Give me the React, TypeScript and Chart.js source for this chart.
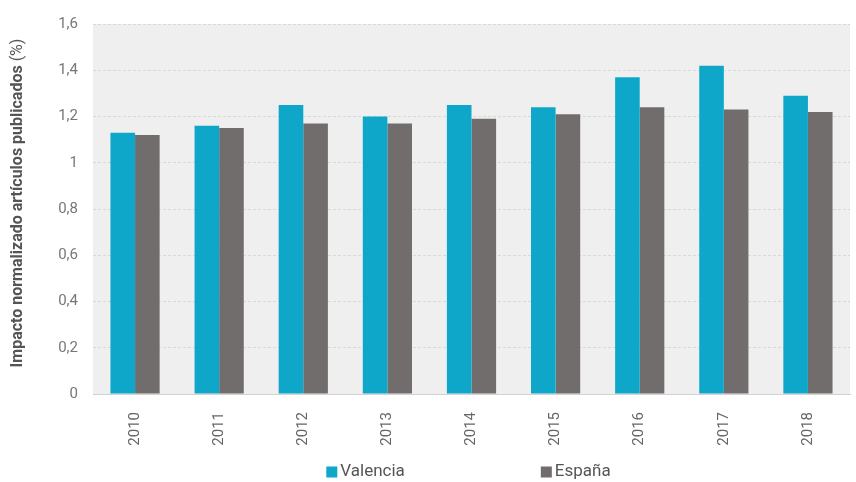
import React, { useEffect, useRef } from "react";
import { Chart, registerables } from "chart.js";

Chart.register(...registerables);

const categories = ["2010", "2011", "2012", "2013", "2014", "2015", "2016", "2017", "2018"];
const valencia = [1.13, 1.16, 1.25, 1.2, 1.25, 1.24, 1.37, 1.42, 1.29];
const espana = [1.12, 1.15, 1.17, 1.17, 1.19, 1.21, 1.24, 1.23, 1.22];
const seriesNames = ["Valencia", "España"];
const seriesColors = ["#0ea7ca", "#726d6d"];
const yTitleMain = "Impacto normalizado artículos publicados";
const yTitleUnit = "(%)";

const FONT = "Roboto, 'Noto Sans', sans-serif";

const bgPlugin = {
  id: "plotBg",
  beforeDraw(chart: any) {
    const { ctx, chartArea } = chart;
    ctx.save();
    ctx.fillStyle = "#efefef";
    ctx.fillRect(chartArea.left, chartArea.top, chartArea.right - chartArea.left, chartArea.bottom - chartArea.top);
    ctx.restore();
  },
};

const titlePlugin = {
  id: "yTitle",
  afterDraw(chart: any) {
    const { ctx, chartArea } = chart;
    const cy = (chartArea.top + chartArea.bottom) / 2 - 6;
    ctx.save();
    ctx.translate(18, cy);
    ctx.rotate(-Math.PI / 2);
    ctx.fillStyle = "#555555";
    ctx.textBaseline = "middle";
    const boldFont = `bold 16px ${FONT}`;
    const normFont = `16px ${FONT}`;
    ctx.font = boldFont;
    const w1 = ctx.measureText(yTitleMain + " ").width;
    ctx.font = normFont;
    const w2 = ctx.measureText(yTitleUnit).width;
    const start = -(w1 + w2) / 2;
    ctx.textAlign = "left";
    ctx.font = boldFont;
    ctx.fillText(yTitleMain + " ", start, 0);
    ctx.font = normFont;
    ctx.fillText(yTitleUnit, start + w1, 0);
    ctx.restore();
  },
};

const legendPlugin = {
  id: "customLegend",
  afterDraw(chart: any) {
    const { ctx, chartArea } = chart;
    const gap = 136;
    const box = 11;
    ctx.save();
    ctx.font = `17px ${FONT}`;
    ctx.textBaseline = "middle";
    ctx.textAlign = "left";
    const items = chart.data.datasets.map((d: any) => ({
      label: d.label,
      color: d.backgroundColor,
      w: box + 3 + ctx.measureText(d.label).width,
    }));
    const total = items.reduce((s: number, it: any) => s + it.w, 0) + gap * (items.length - 1);
    let x = (chartArea.left + chartArea.right) / 2 - total / 2 - 3;
    const y = 472;
    items.forEach((it: any) => {
      ctx.fillStyle = it.color;
      ctx.fillRect(x, y - box / 2, box, box);
      ctx.fillStyle = "#555555";
      ctx.fillText(it.label, x + box + 3, y);
      x += it.w + gap;
    });
    ctx.restore();
  },
};

export default function App() {
  const ref = useRef<HTMLCanvasElement>(null);
  useEffect(() => {
    document.body.style.margin = "0";
    const chart = new Chart(ref.current as HTMLCanvasElement, {
      type: "bar",
      data: {
        labels: categories,
        datasets: [
          { label: seriesNames[0], data: valencia, backgroundColor: seriesColors[0] },
          { label: seriesNames[1], data: espana, backgroundColor: seriesColors[1] },
        ],
      },
      plugins: [bgPlugin, titlePlugin, legendPlugin],
      options: {
        animation: false,
        responsive: false,
        maintainAspectRatio: false,
        layout: { padding: { left: 0, right: 6, top: 14, bottom: 32 } },
        datasets: { bar: { categoryPercentage: 0.585, barPercentage: 1 } },
        plugins: { legend: { display: false }, tooltip: { enabled: false } },
        scales: {
          x: {
            grid: { display: false },
            border: { display: true, color: "#d2d2d2", width: 1 },
            ticks: {
              color: "#666666",
              font: { family: FONT, size: 15 },
              minRotation: 90,
              maxRotation: 90,
              padding: 10,
            },
            afterFit(scale: any) {
              scale.height = 56;
            },
          },
          y: {
            min: 0,
            max: 1.6,
            border: { display: false, dash: [3, 2] },
            grid: { color: "#d8d8d8", drawTicks: false },
            ticks: {
              stepSize: 0.2,
              color: "#777777",
              font: { family: FONT, size: 15 },
              padding: 15,
              callback: (v: any) => String(Number(Number(v).toFixed(1))).replace(".", ","),
            },
            afterFit(scale: any) {
              scale.width = 93;
            },
          },
        },
      },
    });
    return () => chart.destroy();
  }, []);
  return <canvas ref={ref} width={856} height={482} style={{ display: "block" }} />;
}
